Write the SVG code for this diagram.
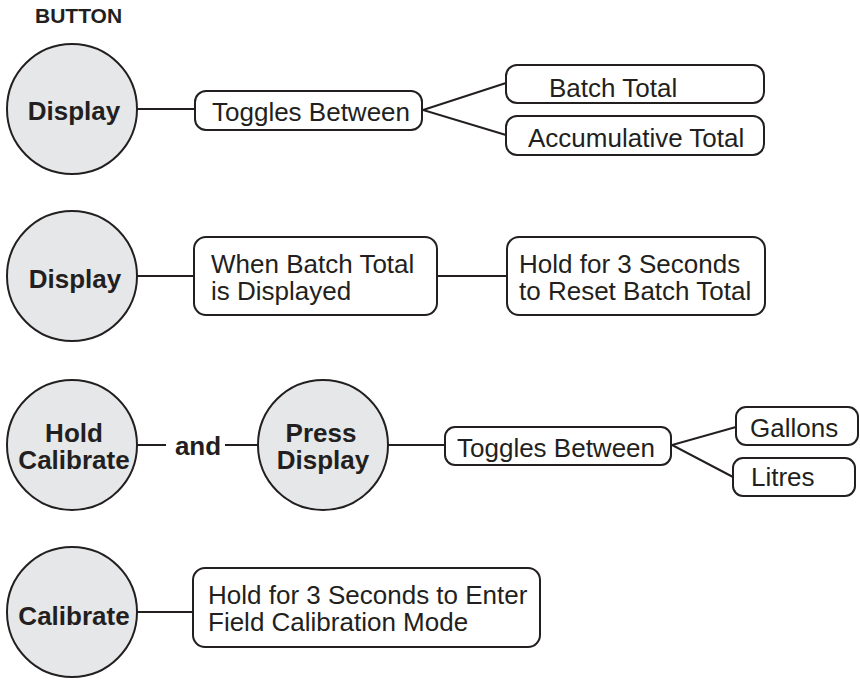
<svg xmlns="http://www.w3.org/2000/svg" width="860" height="680" viewBox="0 0 860 680">
<style>
.btn{fill:#e6e7e8;stroke:#231f20;stroke-width:2}
.box{fill:#ffffff;stroke:#231f20;stroke-width:2}
.ln{fill:none;stroke:#231f20;stroke-width:2}
.bt{font-family:"Liberation Sans",Arial,sans-serif;font-weight:bold;font-size:26px;fill:#231f20}
.tx{font-family:"Liberation Sans",Arial,sans-serif;font-size:26px;fill:#231f20}
.hd{font-family:"Liberation Sans",Arial,sans-serif;font-weight:bold;font-size:21px;fill:#231f20}
</style>
<rect width="860" height="680" fill="#ffffff"/>
<text class="hd" x="35" y="23">BUTTON</text>
<g id="connectors">
<line class="ln" x1="137" y1="109" x2="195" y2="109"/>
<polyline class="ln" points="506,83 423,110 506,135"/>
<line class="ln" x1="137" y1="276" x2="194" y2="276"/>
<line class="ln" x1="437" y1="276" x2="507" y2="276"/>
<line class="ln" x1="137" y1="445" x2="166" y2="445"/>
<line class="ln" x1="225" y1="445" x2="258" y2="445"/>
<line class="ln" x1="387" y1="445" x2="445" y2="445"/>
<polyline class="ln" points="736,427 672,445 733,477"/>
<line class="ln" x1="137" y1="612" x2="193" y2="612"/>
</g>
<g id="btn-display-1">
<circle class="btn" cx="72" cy="109" r="65"/>
<text class="bt" x="74" y="120" text-anchor="middle">Display</text>
</g>
<g id="box-toggles-1">
<rect class="box" x="195" y="91" width="227" height="39" rx="11"/>
<text class="tx" x="212" y="121">Toggles Between</text>
</g>
<g id="box-batch-total">
<rect class="box" x="506" y="65" width="258" height="38" rx="11"/>
<text class="tx" x="549" y="97">Batch Total</text>
</g>
<g id="box-accum-total">
<rect class="box" x="506" y="116" width="258" height="39" rx="11"/>
<text class="tx" x="528" y="147">Accumulative Total</text>
</g>
<g id="btn-display-2">
<circle class="btn" cx="72" cy="276" r="65"/>
<text class="bt" x="75" y="288" text-anchor="middle">Display</text>
</g>
<g id="box-when-batch">
<rect class="box" x="194" y="237" width="243" height="78" rx="12"/>
<text class="tx" x="211" y="273">When Batch Total</text>
<text class="tx" x="211" y="300">is Displayed</text>
</g>
<g id="box-hold-reset">
<rect class="box" x="507" y="237" width="258" height="78" rx="12"/>
<text class="tx" x="519" y="273">Hold for 3 Seconds</text>
<text class="tx" x="519" y="300">to Reset Batch Total</text>
</g>
<g id="btn-hold-calibrate">
<circle class="btn" cx="72" cy="445" r="65"/>
<text class="bt" x="74" y="442" text-anchor="middle">Hold</text>
<text class="bt" x="74" y="469" text-anchor="middle">Calibrate</text>
</g>
<g id="label-and">
<text class="bt" x="198" y="455" text-anchor="middle">and</text>
</g>
<g id="btn-press-display">
<circle class="btn" cx="323" cy="445" r="65"/>
<text class="bt" x="321" y="442" text-anchor="middle">Press</text>
<text class="bt" x="323" y="469" text-anchor="middle">Display</text>
</g>
<g id="box-toggles-2">
<rect class="box" x="445" y="427" width="226" height="38" rx="10"/>
<text class="tx" x="457" y="457">Toggles Between</text>
</g>
<g id="box-gallons">
<rect class="box" x="736" y="407" width="122" height="38" rx="10"/>
<text class="tx" x="750" y="437">Gallons</text>
</g>
<g id="box-litres">
<rect class="box" x="733" y="458" width="122" height="38" rx="10"/>
<text class="tx" x="751" y="486">Litres</text>
</g>
<g id="btn-calibrate">
<circle class="btn" cx="72" cy="612" r="65"/>
<text class="bt" x="74" y="625" text-anchor="middle">Calibrate</text>
</g>
<g id="box-field-cal">
<rect class="box" x="193" y="568" width="347" height="79" rx="12"/>
<text class="tx" x="208" y="604">Hold for 3 Seconds to Enter</text>
<text class="tx" x="208" y="631">Field Calibration Mode</text>
</g>
</svg>
